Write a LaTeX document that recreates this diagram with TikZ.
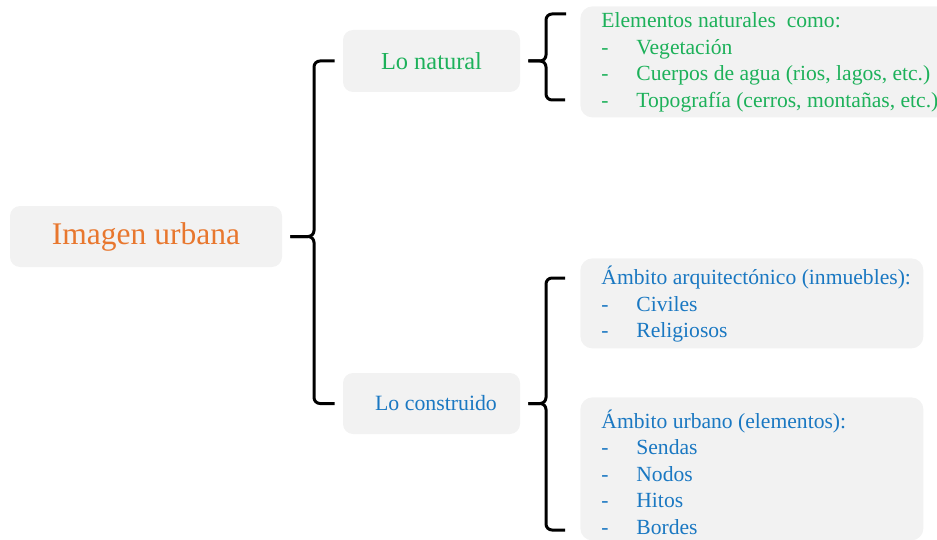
\documentclass[tikz,border=0pt]{standalone}
\usepackage{fontspec}
\setmainfont{Liberation Serif}
\definecolor{orangetxt}{HTML}{E8772E}
\definecolor{greentxt}{HTML}{1DB15A}
\definecolor{bluetxt}{HTML}{1A78C2}
\definecolor{boxgray}{HTML}{F2F2F2}
\newcommand\dashitem[1]{\makebox[17.5pt][l]{-}#1}
\tikzset{
  topbox/.style={fill=boxgray, rounded corners=5pt, inner sep=0pt},
  listbox/.style={fill=boxgray, rounded corners=6pt, anchor=north west, inner sep=0pt},
  listtext/.style={anchor=west, align=left, inner sep=0pt,
    font=\fontsize{10.8pt}{13.25pt}\selectfont},
  brace/.style={line width=1.5pt, rounded corners=3pt}
}

\begin{document}
\begin{tikzpicture}[x=0.5pt, y=-0.5pt]
    \useasboundingbox (0,0) rectangle (937,540);
    \clip (0,0) rectangle (937,540);
    % main boxes
    \node[topbox, minimum width=136pt, minimum height=30.5pt, text=orangetxt,
      font=\fontsize{15.75pt}{18pt}\selectfont] (urb) at (146,236.5) {Imagen urbana};
    \node[topbox, minimum width=88.5pt, minimum height=31pt, text=greentxt,
      font=\fontsize{12.2pt}{14pt}\selectfont] (nat) at (431.5,61) {Lo natural};
    \node[topbox, minimum width=88.5pt, minimum height=30.5pt, text=bluetxt,
      font=\fontsize{10.9pt}{13pt}\selectfont] (con) at (431.5,403.5) {\hspace*{4.5pt}Lo construido};
    % lists
    \node[listbox, minimum width=200pt, minimum height=55.5pt] (natbox) at (580,6) {};
    \node[listtext, text=greentxt] (natlist) at ([xshift=10.5pt, yshift=-0.25pt]natbox.west)
      {Elementos naturales\ \ como:\\ \dashitem{Vegetación}\\
       \dashitem{Cuerpos de agua (rios, lagos, etc.)}\\
       \dashitem{Topografía (cerros, montañas, etc.)}};
    \node[listbox, minimum width=171.5pt, minimum height=45pt] (arqbox) at (580,258) {};
    \node[listtext, text=bluetxt] (arqlist) at ([xshift=10.5pt, yshift=-0.5pt]arqbox.west)
      {Ámbito arquitectónico (inmuebles):\\ \dashitem{Civiles}\\ \dashitem{Religiosos}};
    \node[listbox, minimum width=171.5pt, minimum height=71.5pt] (urbbox) at (580,397) {};
    \node[listtext, text=bluetxt] (urblist) at ([xshift=10.5pt, yshift=-1.5pt]urbbox.west)
      {Ámbito urbano (elementos):\\ \dashitem{Sendas}\\ \dashitem{Nodos}\\
       \dashitem{Hitos}\\ \dashitem{Bordes}};
    % braces
    \coordinate (brA) at (314,236.5);
    \coordinate (brB) at (546,61);
    \coordinate (brC) at (546,403.5);
    \coordinate (natlistA) at (566,14);
    \coordinate (natlistB) at (565,100);
    \coordinate (conlistA) at (565,278);
    \coordinate (conlistB) at (565,530);
    \draw[brace] ([xshift=-4pt]nat.west) -| (brA) -- ([xshift=4pt]urb.east);
    \draw[brace] ([xshift=4pt]urb.east) -- (brA) |- ([xshift=-4pt]con.west);
    \draw[brace] (natlistA) -| (brB) -- ([xshift=4pt]nat.east);
    \draw[brace] ([xshift=4pt]nat.east) -- (brB) |- (natlistB);
    \draw[brace] (conlistA) -| (brC) -- ([xshift=4pt]con.east);
    \draw[brace] ([xshift=4pt]con.east) -- (brC) |- (conlistB);
\end{tikzpicture}
\end{document}
